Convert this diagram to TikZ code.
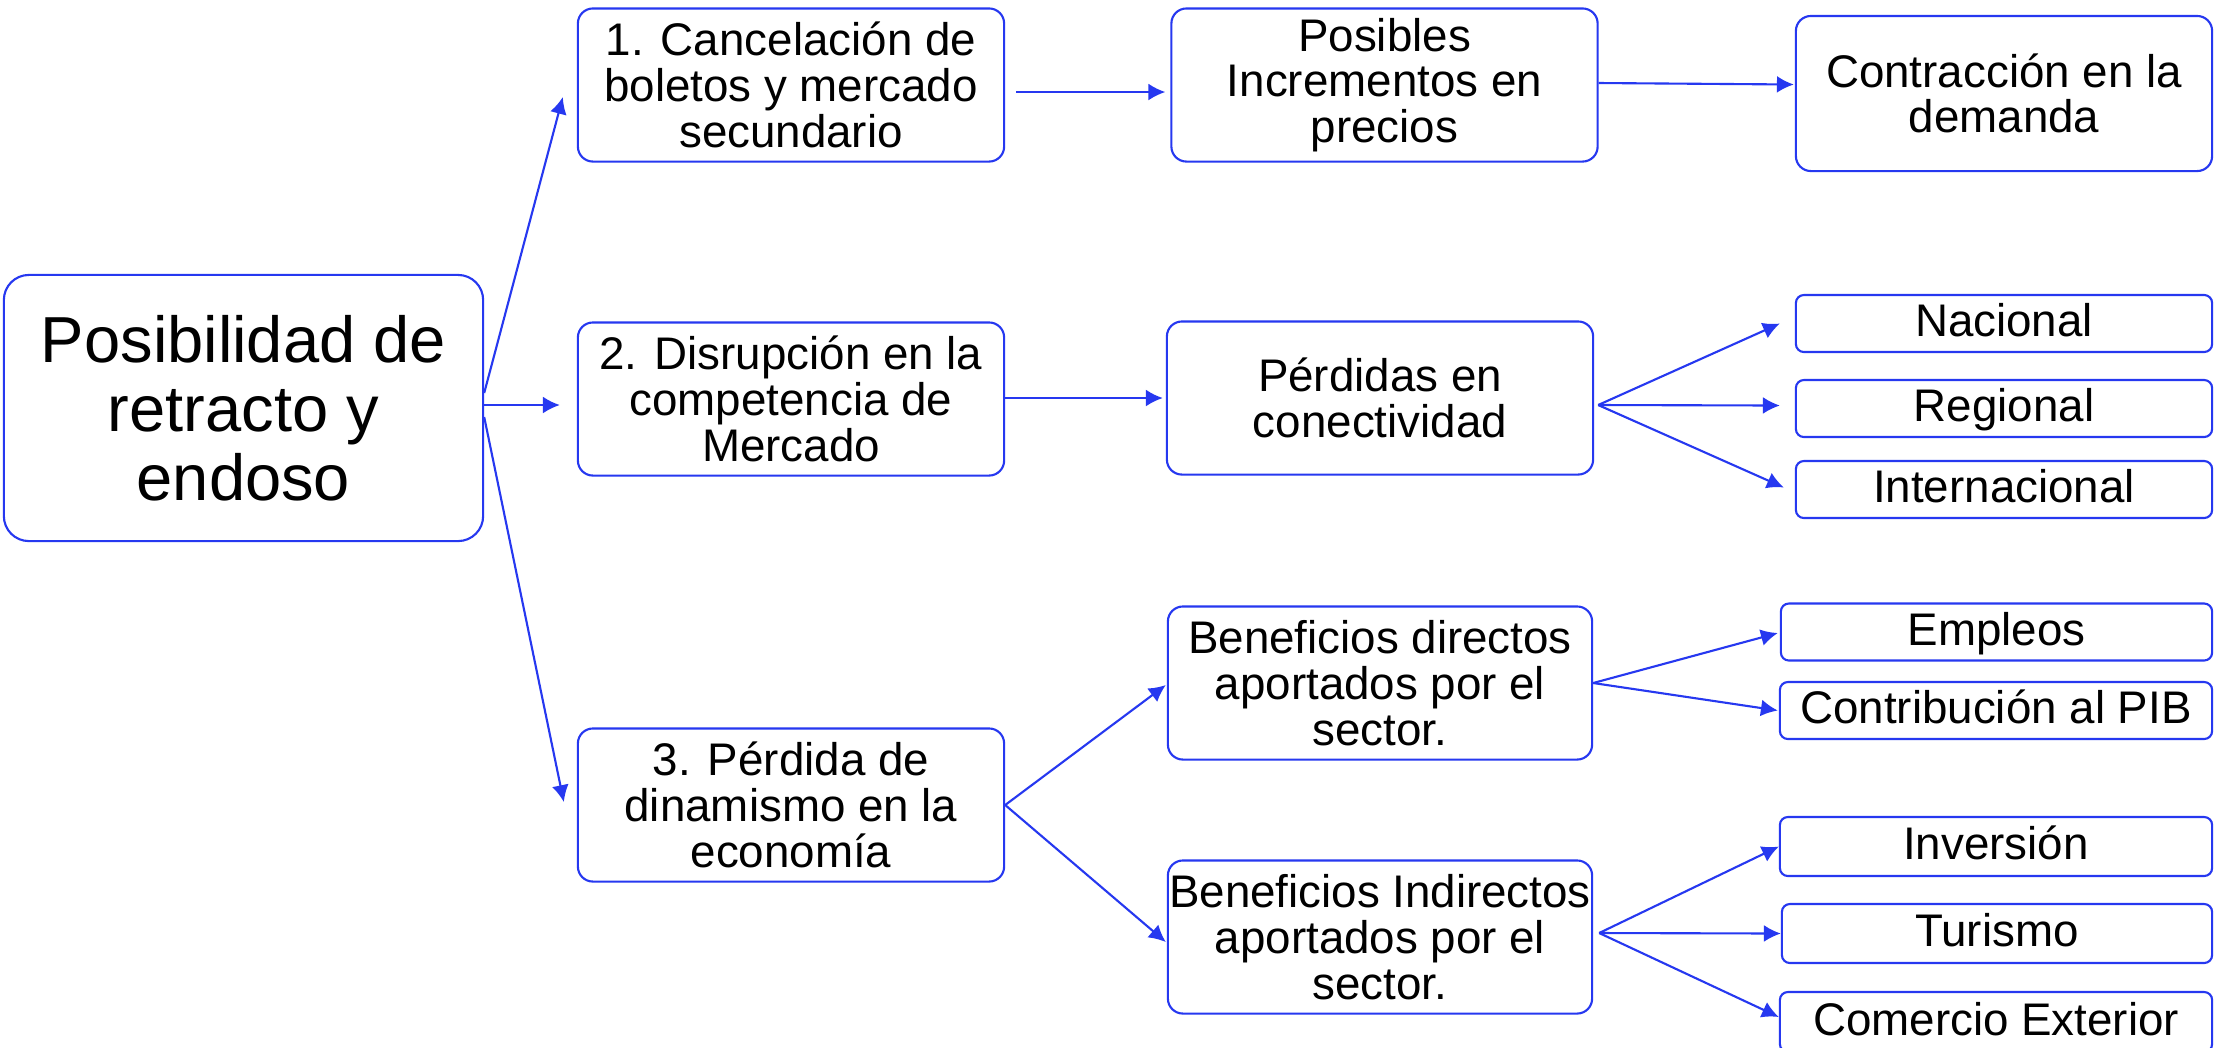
\documentclass[tikz,border=0pt]{standalone}
\usepackage{fontspec}
\setmainfont{Liberation Sans}
\usetikzlibrary{arrows.meta,calc}
\definecolor{linkblue}{RGB}{38,56,240}
\tikzset{
  mainbox/.style={draw=linkblue, line width=0.6pt, rounded corners=0.25cm, minimum width=4.79cm, minimum height=2.66cm, align=center, inner sep=0pt, font=\fontsize{18.5}{19.6}\selectfont},
  stepbox/.style={draw=linkblue, line width=0.6pt, rounded corners=0.15cm, minimum width=4.26cm, minimum height=1.53cm, align=center, inner sep=0pt, font=\fontsize{13}{13}\selectfont},
  tagbox/.style={draw=linkblue, line width=0.6pt, rounded corners=0.08cm, minimum height=0.57cm, inner sep=0pt, text height=10pt, text depth=2.5pt, font=\fontsize{13}{13}\selectfont},
  link/.style={draw=linkblue, line width=0.6pt, -{Latex[length=4.8pt,width=4.8pt]}}
}
\begin{document}
\begin{tikzpicture}[x=0.01cm, y=-0.01cm]
    \path[use as bounding box, fill=white] (0,0) rectangle (2215,1047);

    \node[mainbox] (origen) at (243.5,408) {Posibilidad de\\retracto y\\endoso};

    \node[stepbox] (cancel) at (791,85) {1. Cancelación de\\boletos y mercado\\secundario};
    \node[stepbox] (disrup) at (791,399) {2. Disrupción en la\\competencia de\\Mercado};
    \node[stepbox] (dinam) at (791,805) {3. Pérdida de\\dinamismo en la\\economía};

    \node[stepbox] (precios) at (1384.5,85) {Posibles\\Incrementos en\\precios};
    \node[stepbox] (conect) at (1380,398) {Pérdidas en\\conectividad};
    \node[stepbox, minimum width=4.24cm] (directos) at (1380,683) {Beneficios directos\\aportados por el\\sector.};
    \node[stepbox, minimum width=4.24cm] (indirectos) at (1380,937) {Beneficios Indirectos\\aportados por el\\sector.};

    \node[stepbox, minimum width=4.16cm, minimum height=1.55cm] (demanda) at (2004,93.5) {Contracción en la\\demanda};
    \node[tagbox, minimum width=4.16cm] (nacional) at (2004,323.5) {Nacional};
    \node[tagbox, minimum width=4.16cm] (regional) at (2004,408.5) {Regional};
    \node[tagbox, minimum width=4.16cm] (internacional) at (2004,489.5) {Internacional};

    \node[tagbox, minimum width=4.31cm] (empleos) at (1996.5,632) {Empleos};
    \node[tagbox, minimum width=4.32cm] (pib) at (1996,710.5) {Contribución al PIB};
    \node[tagbox, minimum width=4.32cm, minimum height=0.59cm] (inversion) at (1996,846.5) {Inversión};
    \node[tagbox, minimum width=4.30cm, minimum height=0.59cm] (turismo) at (1997,933.5) {Turismo};
    \node[tagbox, minimum width=4.32cm, minimum height=0.60cm] (comercio) at (1996,1022) {Comercio Exterior};

    \draw[link] ($(origen.east)+(0,-15)$) -- ($(cancel.west)+(-14,12)$);
    \draw[link] ($(origen.east)+(0,-3)$) -- ($(disrup.west)+(-17,6)$);
    \draw[link] ($(origen.east)+(0,9)$) -- ($(dinam.west)+(-13,-3)$);

    \draw[link] ($(cancel.east)+(11,7)$) -- ($(precios.west)+(-5,7)$);
    \draw[link] ($(precios.east)+(0,-2)$) -- ($(demanda.west)+(-1,-9)$);

    \draw[link] ($(disrup.east)+(0,-1)$) -- ($(conect.west)+(-3,0)$);
    \coordinate (fanA) at ($(conect.east)+(4,7)$);
    \draw[link] (fanA) -- ($(nacional.west)+(-15,0)$);
    \draw[link] (fanA) -- ($(regional.west)+(-15,-3)$);
    \draw[link] (fanA) -- ($(internacional.west)+(-11,-2)$);

    \draw[link] (dinam.east) -- ($(directos.west)+(-1,2)$);
    \draw[link] (dinam.east) -- ($(indirectos.west)+(-1,5)$);
    \draw[link] (directos.east) -- ($(empleos.west)+(-2,1)$);
    \draw[link] (directos.east) -- ($(pib.west)+(-1,0)$);
    \coordinate (fanB) at ($(indirectos.east)+(6,-4)$);
    \draw[link] (fanB) -- (inversion.west);
    \draw[link] (fanB) -- (turismo.west);
    \draw[link] (fanB) -- ($(comercio.west)+(0,-5)$);

\end{tikzpicture}
\end{document}
